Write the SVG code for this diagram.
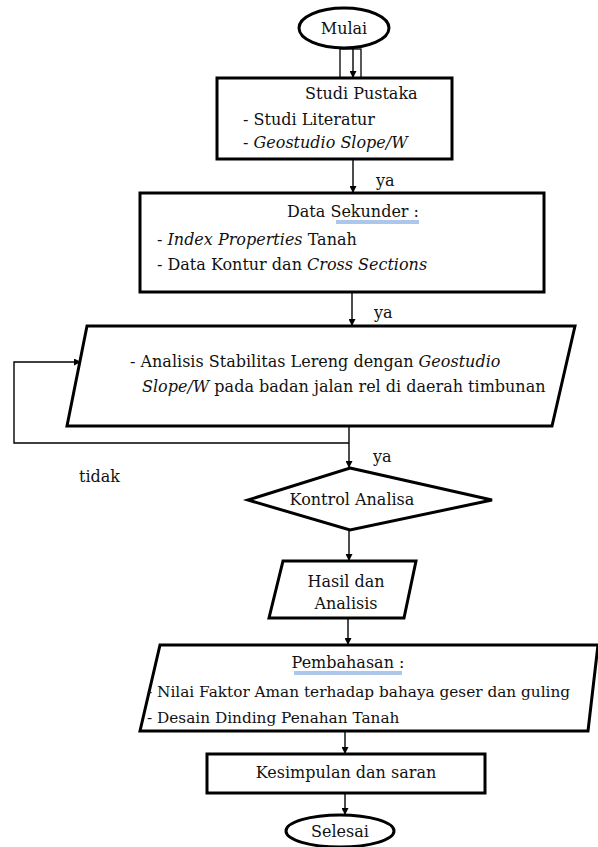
<svg xmlns="http://www.w3.org/2000/svg" width="598" height="847" viewBox="0 0 598 847">
<defs>
<marker id="ah" viewBox="0 0 10 10" refX="10" refY="5" markerWidth="7" markerHeight="7" markerUnits="userSpaceOnUse" orient="auto">
<path d="M0,0 L10,5 L0,10 Z" fill="#000"/>
</marker>
<style>
.shape{fill:#fff;stroke:#000;stroke-width:3}
.thin{fill:none;stroke:#000;stroke-width:1.3}
.conn{fill:none;stroke:#000;stroke-width:1.4}
text{font-family:"DejaVu Serif","Liberation Serif",serif;font-size:16px;fill:#111}
.c{text-anchor:middle}
.i{font-style:italic}
.s{font-size:15.3px}
.u{fill:none;stroke:#5b8fd6;stroke-width:1}
</style>
</defs>
<rect width="598" height="847" fill="#fff"/>

<g id="connectors">
<path class="conn" d="M353,49 V78" marker-end="url(#ah)"/>
<path class="conn" d="M353,159 V193" marker-end="url(#ah)"/>
<path class="conn" d="M352,292 V326" marker-end="url(#ah)"/>
<path class="conn" d="M349,426 V468" marker-end="url(#ah)"/>
<path class="conn" d="M349,443 H14 V362 H81" marker-end="url(#ah)"/>
<path class="conn" d="M349,530 V561" marker-end="url(#ah)"/>
<path class="conn" d="M348,618 V645" marker-end="url(#ah)"/>
<path class="conn" d="M345,731 V754" marker-end="url(#ah)"/>
<path class="conn" d="M345,793 V815" marker-end="url(#ah)"/>
<text x="376" y="186">ya</text>
<text x="374" y="318">ya</text>
<text x="373" y="462">ya</text>
<text x="79" y="482">tidak</text>
</g>

<g id="mulai">
<ellipse class="shape" cx="344" cy="28" rx="45" ry="20"/>
<text class="c" x="344" y="34">Mulai</text>
<rect class="thin" x="340" y="49" width="21" height="53"/>
</g>

<g id="studi-pustaka">
<rect class="shape" x="217" y="78" width="235" height="81"/>
<text x="305" y="99">Studi Pustaka</text>
<text x="243" y="125">- Studi Literatur</text>
<text x="243" y="148">- <tspan class="i">Geostudio Slope/W</tspan></text>
</g>

<g id="data-sekunder">
<rect class="shape" x="140" y="193" width="404" height="99"/>
<text x="287" y="217">Data Sekunder :</text>
<path class="u" d="M336,221 H419 M336,223 H419"/>
<text x="157" y="245">- <tspan class="i">Index Properties</tspan> Tanah</text>
<text x="157" y="270">- Data Kontur dan <tspan class="i">Cross Sections</tspan></text>
</g>

<g id="analisis">
<polygon class="shape" points="87,326 575,326 552,426 67,426"/>
<text x="130" y="367">- Analisis Stabilitas Lereng dengan <tspan class="i">Geostudio</tspan></text>
<text x="142" y="392"><tspan class="i">Slope/W</tspan>  pada badan jalan rel di daerah timbunan</text>
</g>

<g id="kontrol">
<polygon class="shape" points="350,468 492,500 350,530 248,500"/>
<text class="c" x="352" y="505">Kontrol Analisa</text>
</g>

<g id="hasil">
<polygon class="shape" points="283,561 416,561 404,618 269,618"/>
<text class="c" x="346" y="587">Hasil dan</text>
<text class="c" x="346" y="609">Analisis</text>
</g>

<g id="pembahasan">
<polygon class="shape" points="160,645 598,645 588,731 140,731"/>
<text class="c" x="348" y="668">Pembahasan :</text>
<path class="u" d="M294,672 H402 M294,674 H402"/>
<text class="s" x="147" y="697">- Nilai Faktor Aman terhadap bahaya geser dan guling</text>
<text class="s" x="147" y="723">- Desain Dinding Penahan Tanah</text>
</g>

<g id="kesimpulan">
<rect class="shape" x="207" y="754" width="278" height="39"/>
<text class="c" x="346" y="778">Kesimpulan dan saran</text>
</g>

<g id="selesai">
<ellipse class="shape" cx="340" cy="831" rx="54" ry="16"/>
<text class="c" x="340" y="837">Selesai</text>
</g>
</svg>
